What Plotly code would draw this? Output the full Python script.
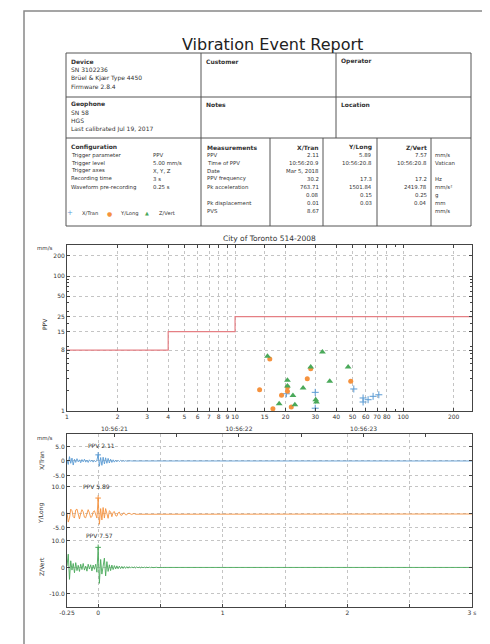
import plotly.graph_objects as go

W, H = 490, 644

# ---------------- data ----------------
# PPV vs frequency scatter (Hz, mm/s)
freq_x = [20.2, 30.0, 30.0, 50.9, 57.8, 57.8, 61.9, 66.3, 71.7]
ppv_x = [1.8, 1.89, 1.1, 2.12, 1.56, 1.36, 1.47, 1.65, 1.74]
freq_y = [16.1, 28.2, 26.9, 48.8, 14.0, 20.5, 20.5, 18.9, 21.6, 16.8]
ppv_y = [5.89, 4.24, 3.01, 2.75, 2.07, 2.27, 1.96, 1.71, 1.15, 1.08]
freq_z = [15.6, 33.1, 28.2, 47.1, 20.5, 20.5, 36.6, 25.4, 22.1, 30.2, 18.3, 22.7, 30.5]
ppv_z = [6.46, 7.48, 4.49, 4.49, 2.85, 2.34, 2.75, 2.19, 1.69, 1.47, 1.28, 1.24, 1.36]

# City of Toronto 514-2008 limit (step)
limit_freq = [1, 4, 10, 260]
limit_ppv = [8, 15, 25, 25]

ppv_xticks = [1, 2, 3, 4, 5, 6, 7, 8, 9, 10, 15, 20, 30, 40, 50, 60, 70, 80, 100, 200]
ppv_yticks = [1, 8, 15, 25, 50, 100, 200]

# Waveforms (mm/s), sampled every 0.01 s from -0.25 s
wave_t0 = -0.25
wave_dt = 0.01
wave_end = 3.0
wave_x = [0.3, -1.2, 1.5, -0.8, 1.0, -1.4, 0.6, -0.5, 0.8, -0.3,
          0.4, -0.6, 0.5, -0.3, 0.6, -0.4, 0.3, -0.5, 0.4, -0.2,
          0.3, -0.4, 0.2, -0.3, 0.3, 2.11, -1.8, 1.2, -1.5, 1.3,
          -1.0, 1.1, -0.8, 0.9, -0.7, 0.6, -0.5, 0.4, -0.4, 0.3,
          -0.3, 0.25, -0.2, 0.2, -0.15, 0.1, -0.1, 0.1, -0.05, 0.05,
          -0.05, 0.05, 0, 0, 0, 0, 0, 0, 0, 0]
wave_y = [0.5, -3.0, -1.5, 1.8, 1.2, -1.0, -1.5, 1.5, 1.8, -0.5,
          -1.8, 0.2, 1.6, 0.8, -1.2, -1.4, 0.6, 1.6, 0.4, -1.3,
          -1.0, 0.8, 1.2, -0.6, -1.5, 5.89, -3.8, 2.0, -2.2, 2.4,
          -1.5, 2.0, 0.5, -1.6, 1.2, 0.8, -1.0, 0.6, 0.9, -0.6,
          -0.8, 0.4, 0.7, -0.4, -0.5, 0.3, 0.4, -0.3, -0.3, 0.2,
          0.25, -0.15, -0.2, 0.1, 0.15, -0.1, -0.1, 0.05, 0.05, 0]
wave_z = [0.5, 5.0, -4.5, 2.5, -1.0, 1.5, -2.0, 1.8, -1.2, 0.8,
          -1.5, 1.2, -0.8, 1.5, -1.0, 0.5, -1.4, 1.2, -0.6, 1.0,
          -1.3, 0.9, -0.7, 1.2, -1.8, 7.57, -6.0, 3.0, -2.5, 1.8,
          3.5, -3.2, 2.2, -1.5, 1.0, -1.2, 0.9, -0.8, 0.7, -0.6,
          0.6, -0.5, 0.5, -0.45, 0.4, -0.4, 0.35, -0.35, 0.3, -0.3,
          0.3, -0.25, 0.25, -0.2, 0.2, -0.2, 0.2, -0.15, 0.15, -0.15,
          0.15, -0.12, 0.12, -0.1, 0.1, -0.1, 0.1, -0.08, 0.08, -0.06,
          0.06, -0.05, 0.05, -0.04, 0.03, -0.02, 0.02, -0.01, 0, 0]
ppv_peak_t = 0.0
ppv_peaks = [2.11, 5.89, 7.57]

time_tick_vals = [0.13, 1.13, 2.13]
time_tick_text = ["10:56:21", "10:56:22", "10:56:23"]

# Report table text
device_lines = ["SN 3102236", "Brüel & Kjær Type 4450", "Firmware 2.8.4"]
geophone_lines = ["SN 58", "HGS", "Last calibrated Jul 19, 2017"]
config_labels = ["Trigger parameter", "Trigger level", "Trigger axes", "Recording time", "Waveform pre-recording"]
config_values = ["PPV", "5.00 mm/s", "X, Y, Z", "3 s", "0.25 s"]
meas_labels = ["PPV", "Time of PPV", "Date", "PPV frequency", "Pk acceleration", "", "Pk displacement", "PVS"]
meas_x = ["2.11", "10:56:20.9", "Mar 5, 2018", "30.2", "763.71", "0.08", "0.01", "8.67"]
meas_y = ["5.89", "10:56:20.8", "", "17.3", "1501.84", "0.15", "0.03", ""]
meas_z = ["7.57", "10:56:20.8", "", "17.2", "2419.78", "0.25", "0.04", ""]
meas_units = ["mm/s", "Vatican", "", "Hz", "mm/s²", "g", "mm", "mm/s"]

C_X = "#5a9bd4"
C_Y = "#f5923e"
C_Z = "#4aa95a"
C_LIM = "#e57f84"
FONT = "DejaVu Sans"
TXT = "#333333"


def px(x):
    return x / W


def py(y):
    return 1 - y / H


def series(vals):
    t = [round(wave_t0 + i * wave_dt, 4) for i in range(len(vals))]
    return t + [wave_end], list(vals) + [0]


fig = go.Figure()

# ---- PPV chart ----
fig.add_trace(go.Scatter(x=limit_freq, y=limit_ppv, mode="lines", line=dict(color=C_LIM, width=1.2, shape="hv"),
                         xaxis="x", yaxis="y", hoverinfo="skip"))
fig.add_trace(go.Scatter(x=freq_x, y=ppv_x, mode="markers", xaxis="x", yaxis="y",
                         marker=dict(symbol="cross-thin", size=5, line=dict(color=C_X, width=1))))
fig.add_trace(go.Scatter(x=freq_y, y=ppv_y, mode="markers", xaxis="x", yaxis="y",
                         marker=dict(symbol="circle", size=5, color=C_Y)))
fig.add_trace(go.Scatter(x=freq_z, y=ppv_z, mode="markers", xaxis="x", yaxis="y",
                         marker=dict(symbol="triangle-up", size=6, color=C_Z)))

# ---- waveforms ----
for vals, col, ya in [(wave_x, C_X, "y2"), (wave_y, C_Y, "y3"), (wave_z, C_Z, "y4")]:
    tx, vy = series(vals)
    fig.add_trace(go.Scatter(x=tx, y=vy, mode="lines", line=dict(color=col, width=0.9),
                             xaxis="x2", yaxis=ya, hoverinfo="skip"))
# invisible copy on the clock-time (top) axis so that axis is drawn
tx, vy = series(wave_x)
fig.add_trace(go.Scatter(x=tx, y=vy, mode="lines", opacity=0, line=dict(width=0),
                         xaxis="x5", yaxis="y2", hoverinfo="skip"))
for pk, col, ya in zip(ppv_peaks, [C_X, C_Y, C_Z], ["y2", "y3", "y4"]):
    fig.add_trace(go.Scatter(x=[ppv_peak_t], y=[pk], mode="markers", xaxis="x2", yaxis=ya,
                             marker=dict(symbol="cross-thin", size=4, line=dict(color=col, width=1))))

grid = dict(showgrid=True, gridcolor="#c4c4c4", griddash="dot", gridwidth=1)
axcommon = dict(showline=True, linecolor="#444", linewidth=1, ticks="inside", ticklen=3, tickcolor="#444",
                tickfont=dict(family=FONT, size=6, color=TXT), zeroline=False, automargin=False, tickangle=0)

minor_y = [v * m for m in [1, 10, 100] for v in range(2, 10)]

fig.update_layout(
    width=W, height=H, margin=dict(l=0, r=0, t=0, b=0), autosize=False,
    paper_bgcolor="white", plot_bgcolor="white", showlegend=False,
    font=dict(family=FONT, size=6, color=TXT),
    xaxis=dict(domain=[px(59), px(464)], type="log", range=[0, 2.41], anchor="y",
               tickmode="array", tickvals=ppv_xticks, ticktext=[str(v) for v in ppv_xticks],
               mirror="ticks", minor=dict(tickvals=[90], ticks="inside", ticklen=2, tickcolor="#444", showgrid=False),
               **grid, **axcommon),
    yaxis=dict(domain=[py(403), py(237)], type="log", range=[0, 2.46], anchor="x",
               tickmode="array", tickvals=ppv_yticks, ticktext=[str(v) for v in ppv_yticks],
               mirror="ticks", minor=dict(tickvals=minor_y, ticks="inside", ticklen=2, tickcolor="#444", showgrid=False),
               **grid, **axcommon),
    xaxis2=dict(domain=[px(59), px(464)], range=[-0.25, 3.0], anchor="y4",
                tickmode="array", tickvals=[-0.25, 0, 1, 2, 3], ticktext=["-0.25", "0", "1", "2", "3 s"],
                minor=dict(tickvals=[0.5, 1.5, 2.5], ticks="inside", ticklen=3, tickcolor="#444",
                           showgrid=True, gridcolor="#c4c4c4", griddash="dot"),
                **grid, **axcommon),
    xaxis5=dict(range=[-0.25, 3.0], overlaying="x2", anchor="y2", side="top",
                tickmode="array", tickvals=time_tick_vals, ticktext=time_tick_text,
                minor=dict(tickvals=[v + 0.5 for v in time_tick_vals], ticks="inside", ticklen=3,
                           tickcolor="#444", showgrid=False),
                showgrid=False, **axcommon),
    yaxis2=dict(domain=[py(473), py(426)], range=[-6.9, 9.3], anchor="x2", mirror="ticks",
                tickmode="array", tickvals=[5, 0, -5], ticktext=["5.0", "0", "-5.0"], **grid, **axcommon),
    yaxis3=dict(domain=[py(526), py(473)], range=[-7.4, 12.2], anchor="x2", mirror="ticks",
                tickmode="array", tickvals=[10, 0, -5], ticktext=["10.0", "0", "-5.0"], **grid, **axcommon),
    yaxis4=dict(domain=[py(599), py(526)], range=[-14.9, 12.6], anchor="x2", mirror="ticks",
                tickmode="array", tickvals=[10, 0, -10], ticktext=["10.0", "0", "-10.0"], **grid, **axcommon),
)

shapes = []


def line(x0, y0, x1, y1, color="#555", width=1):
    shapes.append(dict(type="line", xref="paper", yref="paper", x0=px(x0), y0=py(y0), x1=px(x1), y1=py(y1),
                       line=dict(color=color, width=width)))


# page frame
shapes.append(dict(type="rect", xref="paper", yref="paper", x0=px(16), y0=py(660), x1=px(485), y1=py(3),
                   line=dict(color="#888", width=1.5)))
# table lines
for yy in [45, 89, 130, 218]:
    line(58, yy, 463, yy)
for xx in [58, 193, 463]:
    line(xx, 45, xx, 218)
line(328, 45, 328, 130)
for xx in [262, 315, 369, 423]:
    line(xx, 130, xx, 218)
fig.update_layout(shapes=shapes)

ann = []


def text(x, y, s, size=6, bold=False, anchor="left", color=TXT, angle=0, fam=FONT):
    if bold and s:
        s = "<b>" + s + "</b>"
    ann.append(dict(x=px(x), y=py(y), xref="paper", yref="paper", text=s, showarrow=False,
                    xanchor=anchor, yanchor="middle", textangle=angle,
                    font=dict(family=fam, size=size, color=color)))


text(264, 37, "Vibration Event Report", size=16, anchor="center", color="#222")
text(61, 53, "Device", bold=True)
for i, s in enumerate(device_lines):
    text(61, 61.5 + i * 8.7, s)
text(196, 53, "Customer", bold=True)
text(331, 53, "Operator", bold=True)
text(61, 96, "Geophone", bold=True)
for i, s in enumerate(geophone_lines):
    text(61, 104.5 + i * 8.5, s)
text(196, 96, "Notes", bold=True)
text(331, 96, "Location", bold=True)

LS = 8.0
FS = 5.4
text(61, 139, "Configuration", bold=True)
for i, (a, b) in enumerate(zip(config_labels, config_values)):
    text(61, 139 + (i + 1) * LS, a, size=FS)
    text(143, 139 + (i + 1) * LS, b, size=FS)
text(197, 139, "Measurements", bold=True)
text(313, 139, "X/Tran", bold=True, anchor="right")
text(366, 139, "Y/Long", bold=True, anchor="right")
text(421, 139, "Z/Vert", bold=True, anchor="right")
for i in range(len(meas_labels)):
    yy = 139 + (i + 1) * LS
    text(197, yy, meas_labels[i], size=FS)
    text(313, yy, meas_x[i], size=FS, anchor="right")
    text(366, yy, meas_y[i], size=FS, anchor="right")
    text(421, yy, meas_z[i], size=FS, anchor="right")
    text(425, yy, meas_units[i], size=FS)

# legend in configuration box
text(62, 205, "+", size=7, anchor="center", color=C_X)
text(72, 205, "X/Tran", size=5.2)
text(101, 205, "●", size=6, anchor="center", color=C_Y)
text(110, 205, "Y/Long", size=5.2)
text(139, 205, "▲", size=5, anchor="center", color=C_Z)
text(149, 205, "Z/Vert", size=5.2)

# PPV chart labels
text(261.5, 230, "City of Toronto 514-2008", size=7.5, anchor="center")
text(37, 240, "mm/s", size=5.5, anchor="center")
text(37, 316, "PPV", size=6, anchor="center", angle=-90)

# waveform labels
text(37, 430, "mm/s", size=5.5, anchor="center")
text(33, 453, "X/Tran", size=6, anchor="center", angle=-90)
text(33, 506, "Y/Long", size=6, anchor="center", angle=-90)
text(33, 559, "Z/Vert", size=6, anchor="center", angle=-90)

for s, tx_, ty, ya in [("PPV 2.11", 0.03, 5.5, "y2"), ("PPV 5.89", -0.01, 10.0, "y3"), ("PPV 7.57", 0.01, 11.9, "y4")]:
    ann.append(dict(x=tx_, y=ty, xref="x2", yref=ya, text=s, showarrow=False, xanchor="center", yanchor="middle",
                    font=dict(family=FONT, size=6, color=TXT), bgcolor="rgba(0,0,0,0)"))

fig.update_layout(annotations=ann)
fig.write_html("out.html")
